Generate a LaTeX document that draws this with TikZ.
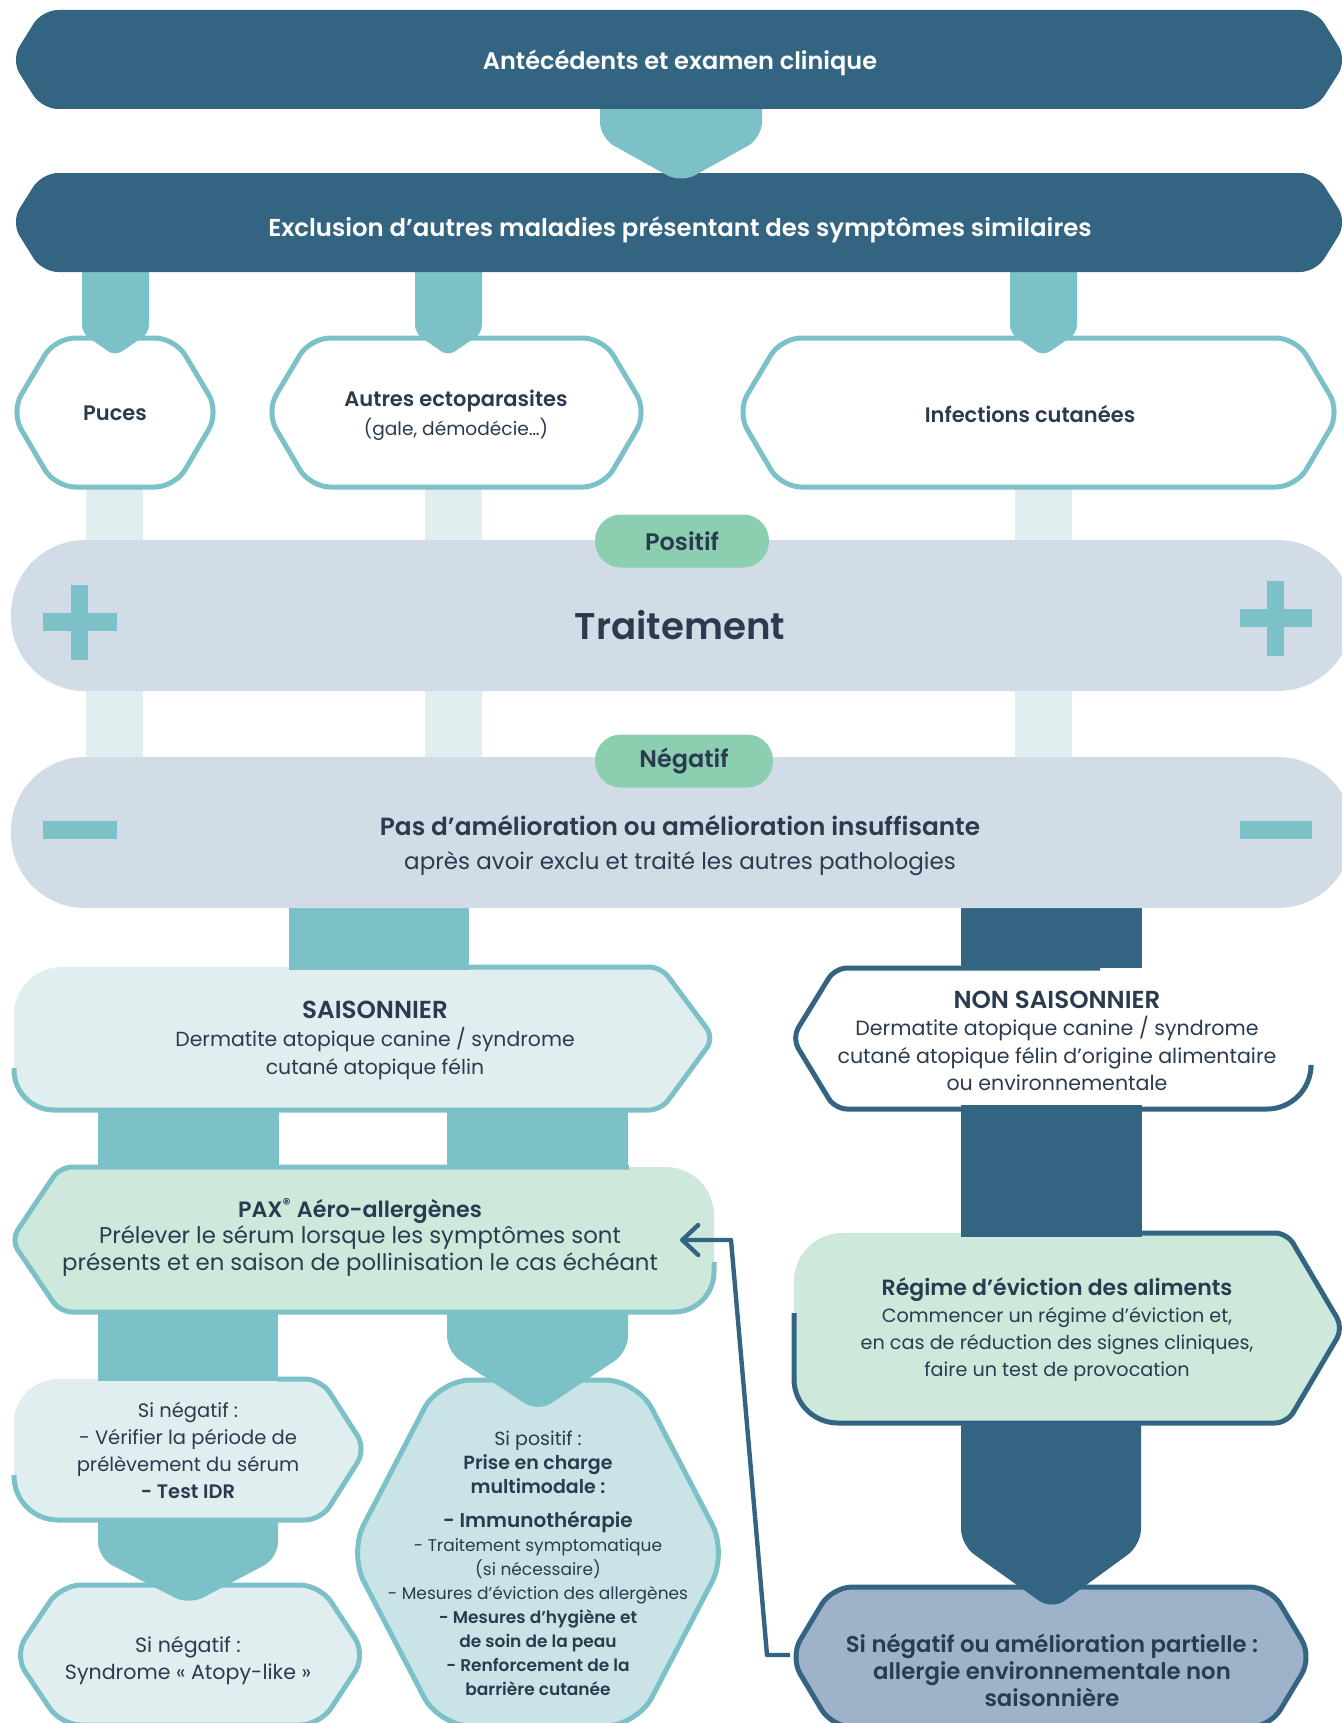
\documentclass[tikz,border=0pt]{standalone}
\usepackage{fontspec}
\setmainfont{Poppins}[BoldFont={Poppins SemiBold}]
\usetikzlibrary{arrows.meta}
\definecolor{bandblue}{HTML}{336482}
\definecolor{stemteal}{HTML}{7BC1C7}
\definecolor{paleteal}{HTML}{E0EEF0}
\definecolor{pillgrey}{HTML}{D1DCE6}
\definecolor{pillgreen}{HTML}{8BCFB0}
\definecolor{palegreen}{HTML}{CFE8DC}
\definecolor{hexteal}{HTML}{C9E3E6}
\definecolor{finblue}{HTML}{9EB3C9}
\definecolor{ink}{HTML}{2B3B4F}

\begin{document}
\begin{tikzpicture}[x=0.5pt, y=-0.5pt,
    txt/.style={text=ink, align=center, inner sep=0pt},
    band/.style={fill=bandblue, rounded corners=8pt},
    lightstem/.style={fill=stemteal, rounded corners=8pt},
    darkstem/.style={fill=bandblue, rounded corners=8pt},
    tealline/.style={draw=stemteal, line width=2.5pt},
    navyline/.style={draw=bandblue, line width=2.5pt},
    track/.style={fill=pillgrey, rounded corners=37pt},
    tag/.style={fill=pillgreen, rounded corners=13pt, minimum width=87pt,
      minimum height=26.5pt, inner sep=0pt, text=ink,
      font=\fontsize{12}{14}\selectfont\bfseries},
    sign/.style={fill=stemteal},
    back/.style={draw=bandblue, line width=2.2pt, line join=round,
      -{Straight Barb[length=8pt, width=15pt, round]}}]
  \useasboundingbox (0,0) rectangle (1342,1723);

  % pale bars behind the result tracks
  \fill[paleteal] (86,480) rectangle (143,760);
  \fill[paleteal] (425,480) rectangle (482,760);
  \fill[paleteal] (1015,480) rectangle (1072,760);

  % first row of exclusions
  \draw[tealline, fill=white, rounded corners=10pt] (115,338) -- (175,338) -- (219,412) -- (175,487) -- (55,487) -- (11,412) -- (55,338) -- cycle;
  \draw[tealline, fill=white, rounded corners=10pt] (456,338) -- (603,338) -- (647,412) -- (603,487) -- (310,487) -- (266,412) -- (310,338) -- cycle;
  \draw[tealline, fill=white, rounded corners=10pt] (1038,338) -- (1296,338) -- (1340,412) -- (1296,487) -- (781,487) -- (737,412) -- (781,338) -- cycle;
  \fill[lightstem, rounded corners=4pt] (115,250) -- (149,250) -- (149,333) -- (115,356) -- (82,333) -- (82,250) -- cycle;
  \fill[lightstem, rounded corners=4pt] (448,250) -- (482,250) -- (482,333) -- (448,356) -- (415,333) -- (415,250) -- cycle;
  \fill[lightstem, rounded corners=4pt] (1043,250) -- (1077,250) -- (1077,333) -- (1043,356) -- (1010,333) -- (1010,250) -- cycle;

  % banners
  \fill[band] (680,173) -- (1316,173) -- (1347,222) -- (1316,272) -- (42,272) -- (11,222) -- (42,173) -- cycle;
  \fill[lightstem] (681,90) -- (762,90) -- (762,138) -- (681,183) -- (600,138) -- (600,90) -- cycle;
  \fill[band] (680,10) -- (1316,10) -- (1347,60) -- (1316,109) -- (42,109) -- (11,60) -- (42,10) -- cycle;

  % non seasonal branch
  \draw[navyline, fill=finblue, rounded corners=10pt] (1052,1587) -- (1270,1587) -- (1312,1657) -- (1270,1727) -- (832,1727) -- (790,1657) -- (832,1587) -- cycle;
  \fill[darkstem] (1051,1390) -- (1141,1390) -- (1141,1545) -- (1052,1610) -- (961,1545) -- (961,1390) -- cycle;
  \fill[palegreen] (1000,1233) [rounded corners=6pt] -- (1287,1233) -- (1343,1328) -- (1287,1423) [rounded corners=24pt] -- (794,1423) -- (794,1233) -- cycle;
  \draw[navyline] (1142,1233) [rounded corners=6pt] -- (1287,1233) -- (1343,1328) -- (1287,1423) [rounded corners=22pt] -- (794,1423) -- (794,1313);
  \fill[bandblue] (961,1105) rectangle (1142,1237);
  \draw[navyline] (1100,968) [rounded corners=6pt] -- (835,968) -- (792,1038) -- (835,1109) [rounded corners=22pt] -- (1311,1109) -- (1311,1068);
  \fill[bandblue] (961,880) rectangle (1142,968);

  % seasonal branch
  \draw[tealline, fill=paleteal, rounded corners=10pt] (188,1585) -- (320,1585) -- (366,1655) -- (320,1725) -- (61,1725) -- (14,1655) -- (61,1585) -- cycle;
  \fill[lightstem] (188,1500) -- (278,1500) -- (278,1558) -- (189,1605) -- (98,1558) -- (98,1500) -- cycle;
  \fill[paleteal] (14,1450) [rounded corners=22pt] -- (14,1379) [rounded corners=8pt] -- (321,1379) -- (366,1449) -- (321,1520) [rounded corners=22pt] -- (14,1520) -- cycle;
  \draw[tealline] (278,1379) [rounded corners=8pt] -- (321,1379) -- (366,1449) -- (321,1520) [rounded corners=22pt] -- (14,1520) -- (14,1475);
  \fill[stemteal] (98,1300) rectangle (278,1381);
  \draw[tealline, fill=hexteal, rounded corners=16pt] (538,1380) -- (637,1380) -- (727,1553) -- (637,1726) -- (439,1726) -- (349,1553) -- (439,1380) -- cycle;
  \fill[lightstem] (538,1290) -- (628,1290) -- (628,1352) -- (538,1412) -- (447,1352) -- (447,1290) -- cycle;
  \fill[stemteal] (98,1100) rectangle (279,1175);
  \fill[stemteal] (447,1100) rectangle (628,1175);
  \fill[palegreen] (400,1167) [rounded corners=24pt] -- (714,1167) [rounded corners=20pt] -- (714,1312) [rounded corners=6pt] -- (60,1312) -- (11,1240) -- (60,1167) -- cycle;
  \draw[tealline] (629,1167) [rounded corners=6pt] -- (60,1167) -- (11,1240) -- (60,1312) [rounded corners=20pt] -- (714,1312) -- (714,1262);
  \fill[paleteal] (14,1040) [rounded corners=24pt] -- (14,967) [rounded corners=6pt] -- (661,967) -- (714,1038) -- (661,1110) [rounded corners=20pt] -- (14,1110) -- cycle;
  \draw[tealline] (300,967) [rounded corners=6pt] -- (661,967) -- (714,1038) -- (661,1110) [rounded corners=20pt] -- (14,1110) -- (14,1068);
  \fill[stemteal] (289,880) rectangle (469,970);

  % result tracks
  \fill[track] (11,540) rectangle (1352,691);
  \fill[track] (11,757) rectangle (1352,908);
  \fill[sign] (71,585) rectangle (88,660);
  \fill[sign] (43,613) rectangle (117,631);
  \fill[sign] (1267,581) rectangle (1284,656);
  \fill[sign] (1240,609) rectangle (1312,627);
  \fill[sign] (43,821) rectangle (117,839);
  \fill[sign] (1240,821) rectangle (1312,839);
  \node[tag] (positif) at (682,541) {Positif};
  \node[tag, minimum width=89pt] (negatif) at (684,761) {Négatif};

  % texts
  \node[txt, text=white, font=\fontsize{12}{14}\selectfont\bfseries] (antecedents) at (680,63) {Antécédents et examen clinique};
  \node[txt, text=white, font=\fontsize{12.2}{14}\selectfont\bfseries] (exclusion) at (680,230) {Exclusion d’autres maladies présentant des symptômes similaires};
  \node[txt, font=\fontsize{10.5}{12}\selectfont\bfseries] (puces) at (115,413) {Puces};
  \node[txt, font=\fontsize{10.5}{14.5}\selectfont] (ecto) at (456,415) {\textbf{Autres ectoparasites}\\{\fontsize{9.3}{14.5}\selectfont (gale, démodécie…)}};
  \node[txt, font=\fontsize{10.5}{12}\selectfont\bfseries] (infections) at (1030,414) {Infections cutanées};
  \node[txt, font=\fontsize{18.6}{20}\selectfont\bfseries] (traitement) at (680,625) {Traitement};
  \node[txt, font=\fontsize{12.4}{17}\selectfont] (ameliore) at (680,845) {\textbf{Pas d’amélioration ou amélioration insuffisante}\\{\fontsize{11.5}{17}\selectfont après avoir exclu et traité les autres pathologies}};
  \node[txt, font=\fontsize{10.2}{14}\selectfont] (saison) at (375,1040) {{\fontsize{12.3}{14}\selectfont\bfseries SAISONNIER}\\Dermatite atopique canine / syndrome\\cutané atopique félin};
  \node[txt, font=\fontsize{10.3}{13.75}\selectfont] (nonsaison) at (1057,1041) {{\fontsize{12.3}{14}\selectfont\bfseries NON SAISONNIER}\\Dermatite atopique canine / syndrome\\cutané atopique félin d'origine alimentaire\\ou environnementale};
  \node[txt, font=\fontsize{11.4}{13.25}\selectfont] (pax) at (360,1237) {{\fontsize{11.1}{13.25}\selectfont\bfseries PAX\textsuperscript{®} Aéro-allergènes}\\Prélever le sérum lorsque les symptômes sont\\présents et en saison de pollinisation le cas échéant};
  \node[txt, font=\fontsize{9.6}{13.5}\selectfont] (regime) at (1057,1330) {{\fontsize{11}{13.5}\selectfont\bfseries Régime d’éviction des aliments}\\Commencer un régime d’éviction et,\\en cas de réduction des signes cliniques,\\faire un test de provocation};
  \node[txt, font=\fontsize{9.75}{13.5}\selectfont] (sineg) at (188,1450) {Si négatif :\\- Vérifier la période de\\prélèvement du sérum\\\textbf{- Test IDR}};
  \node[txt, font=\fontsize{10.3}{13.5}\selectfont] (atopy) at (188,1661) {Si négatif :\\Syndrome «~Atopy-like~»};
  \node[txt, font=\fontsize{8.5}{12}\selectfont] (sipos) at (538,1563) {{\fontsize{9.5}{13}\selectfont Si positif :}\\{\fontsize{9.5}{13}\selectfont\bfseries Prise en charge}\\{\fontsize{9.5}{13}\selectfont\bfseries multimodale :}\\[5pt]{\fontsize{10}{13}\selectfont\bfseries - Immunothérapie}\\- Traitement symptomatique\\(si nécessaire)\\- Mesures d'éviction des allergènes\\\textbf{- Mesures d’hygiène et}\\\textbf{de soin de la peau}\\\textbf{- Renforcement de la}\\\textbf{barrière cutanée}};
  \node[txt, font=\fontsize{11.4}{13.5}\selectfont\bfseries] (partielle) at (1052,1670) {Si négatif ou amélioration partielle :\\allergie environnementale non\\saisonnière};

  % way back to the test
  \coordinate (partw) at (790,1655);
  \coordinate (bendlow) at (767,1655);
  \coordinate (bendhigh) at (731,1240);
  \coordinate (paxin) at (680,1240);
  \draw[back] (partw) -- (bendlow) -- (bendhigh) -- (paxin);
\end{tikzpicture}
\end{document}
